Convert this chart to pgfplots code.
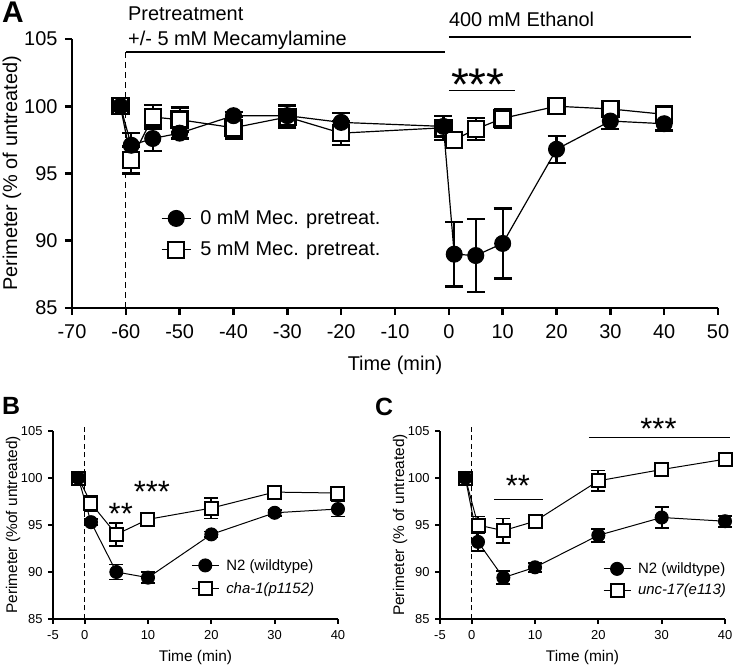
\documentclass[border=0pt]{standalone}
\usepackage{fontspec}
\setmainfont{Liberation Sans}
\usepackage{pgfplots}
\pgfplotsset{compat=1.18}
\pgfplotsset{
  myleg/.style={
    legend image code/.code={
      \draw[mark repeat=2,mark phase=2,##1] plot coordinates {(0bp,0bp) (14.5bp,0bp) (29bp,0bp)};
    },
  },
  myleg small/.style={
    legend image code/.code={
      \draw[mark repeat=2,mark phase=2,##1] plot coordinates {(0bp,0bp) (13.5bp,0bp) (27bp,0bp)};
    },
  },
}
\begin{document}
\begin{tikzpicture}
\useasboundingbox (0,0) rectangle (734bp,669bp);
% ---------------- Panel A ----------------
\begin{axis}[
  scale only axis,
  at={(72bp,361bp)}, anchor=south west, width=646bp, height=269bp,
  axis x line*=bottom, axis y line*=left,
  axis line style={line width=2.6bp},
  tick align=outside,
  major tick length=7bp,
  tick style={line width=2.6bp, black},
  clip=false,
  ymin=85,ymax=105, ytick={85,90,95,100,105}, yticklabels={85,90,95,100,105},
  xmin=-70, xmax=50, xtick={-70,-60,-50,-40,-30,-20,-10,0,10,20,30,40,50},
  xticklabels={-70,-60,-50,-40,-30,-20,-10,0,10,20,30,40,50},
  ticklabel style={font=\fontsize{20}{24}\selectfont},
  xticklabel style={yshift=-6bp}, yticklabel style={xshift=-4bp},
  label style={font=\fontsize{20}{24}\selectfont},
  xlabel={Time (min)}, ylabel={Perimeter (\% of untreated)},
  xlabel style={at={(axis description cs:0.5,-0.212)}, anchor=center},
  ylabel style={at={(axis description cs:-0.093,0.5)}, anchor=center},
  legend cell align=left, reverse legend, myleg,
  legend style={draw=none, fill=none, at={(axis description cs:0.133,0.275)}, anchor=west,
    font=\fontsize{20}{24}\selectfont, row sep=12bp,
    /tikz/every odd column/.append style={column sep=7bp}},
]
\addplot[black, line width=1.2bp, mark=square*, mark size=8bp, mark options={solid, fill=white, line width=2.4bp},
  error bars/.cd, y dir=both, y explicit, error bar style={line width=2.2bp}, error mark options={rotate=90, mark size=9bp, line width=2.2bp}]
coordinates {
(-61,100) +- (0,0.5)
(-59,96.0) +- (0,1.0)
(-55,99.2) +- (0,0.9)
(-50,99.0) +- (0,0.9)
(-40,98.4) +- (0,0.8)
(-30,99.2) +- (0,0.8)
(-20,98.0) +- (0,0.9)
(-1,98.4) +- (0,0.9)
(1,97.5) +- (0,0.6)
(5,98.3) +- (0,0.8)
(10,99.1) +- (0,0.7)
(20,100.0) +- (0,0.6)
(30,99.8) +- (0,0.6)
(40,99.4) +- (0,0.5)
};
\addlegendentry{5 mM Mec. pretreat.}
\addplot[black, line width=1.2bp, mark=*, mark size=8bp, mark options={solid, fill=black, line width=1bp},
  error bars/.cd, y dir=both, y explicit, error bar style={line width=2.2bp}, error mark options={rotate=90, mark size=9bp, line width=2.2bp}]
coordinates {
(-61,100) +- (0,0.5)
(-59,97.1) +- (0,0.9)
(-55,97.6) +- (0,0.9)
(-50,98.0) +- (0,0.4)
(-40,99.3) +- (0,0.3)
(-30,99.3) +- (0,0.8)
(-20,98.8) +- (0,0.7)
(-1,98.5) +- (0,0.8)
(1,89.0) +- (0,2.4)
(5,88.9) +- (0,2.7)
(10,89.8) +- (0,2.6)
(20,96.8) +- (0,1.0)
(30,98.9) +- (0,0.6)
(40,98.7) +- (0,0.5)
};
\addlegendentry{0 mM Mec. pretreat.}
% axis frame and ticks
\draw[line width=2.6bp, line join=miter] (axis cs:-70,105) -- (axis cs:-70,85) -- (axis cs:50,85);
\pgfplotsinvokeforeach{-70,-60,-50,-40,-30,-20,-10,0,10,20,30,40,50}{
  \draw[line width=2.6bp] (axis cs:#1,85) -- ++(0bp,-7bp);
}
\pgfplotsinvokeforeach{85,90,95,100,105}{
  \draw[line width=2.6bp] (axis cs:-70,#1) -- ++(-7bp,0bp);
}
\draw[line width=1bp, dash pattern=on 6bp off 4bp] (axis cs:-60,85) -- (axis cs:-60,104);
\draw[line width=1.2bp] (axis cs:-60,104.03) -- (axis cs:-0.7,104.03);
\draw[line width=1.2bp] (axis cs:0,105.15) -- (axis cs:45,105.15);
\node[anchor=base west, inner sep=0pt, font=\fontsize{20}{24}\selectfont] at (axis cs:-59.6,106.41) {Pretreatment};
\node[anchor=base west, inner sep=0pt, font=\fontsize{20}{24}\selectfont] at (axis cs:-59.6,104.55) {+/- 5 mM Mecamylamine};
\node[anchor=base west, inner sep=0pt, font=\fontsize{20}{24}\selectfont] at (axis cs:0,105.9) {400 mM Ethanol};
\draw[line width=1.2bp] (axis cs:0,101.2) -- (axis cs:12.2,101.2);
\node[anchor=base, inner sep=0pt, font=\fontsize{46}{50}\selectfont] at (axis cs:5.4,100.46) {***};
\end{axis}
% ---------------- Panel B ----------------
\begin{axis}[
  scale only axis,
  at={(53bp,50bp)}, anchor=south west, width=285bp, height=188bp,
  axis x line*=bottom, axis y line*=left,
  axis line style={line width=2bp},
  tick align=outside,
  major tick length=5bp,
  tick style={line width=2bp, black},
  clip=false,
  ymin=85,ymax=105, ytick={85,90,95,100,105}, yticklabels={85,90,95,100,105},
  xmin=-5, xmax=40, xtick={-5,0,10,20,30,40}, xticklabels={-5,0,10,20,30,40},
  ticklabel style={font=\fontsize{13}{15}\selectfont},
  xticklabel style={yshift=-3bp}, yticklabel style={xshift=-2bp},
  label style={font=\fontsize{15.5}{18}\selectfont},
  xlabel={Time (min)}, ylabel={Perimeter (\%of untreated)},
  xlabel style={at={(axis description cs:0.5,-0.205)}, anchor=center},
  ylabel style={at={(axis description cs:-0.14,0.5)}, anchor=center},
  legend cell align=left, reverse legend, myleg small,
  legend style={draw=none, fill=none, at={(axis description cs:0.474,0.223)}, anchor=west,
    font=\fontsize{15}{18}\selectfont, row sep=7bp,
    /tikz/every odd column/.append style={column sep=5bp}},
]
\addplot[black, line width=1bp, mark=square*, mark size=6.5bp, mark options={solid, fill=white, line width=2bp},
  error bars/.cd, y dir=both, y explicit, error bar style={line width=1.8bp}, error mark options={rotate=90, mark size=7bp, line width=1.8bp}]
coordinates {
(-1,100) +- (0,0.3)
(1,97.3) +- (0,0.8)
(5,94.0) +- (0,1.2)
(10,95.6) +- (0,0.4)
(20,96.8) +- (0,1.1)
(30,98.5) +- (0,0.3)
(40,98.4) +- (0,0.5)
};
\addlegendentry{\itshape cha-1(p1152)}
\addplot[black, line width=1bp, mark=*, mark size=6.5bp, mark options={solid, fill=black, line width=1bp},
  error bars/.cd, y dir=both, y explicit, error bar style={line width=1.8bp}, error mark options={rotate=90, mark size=7bp, line width=1.8bp}]
coordinates {
(-1,100) +- (0,0.3)
(1,95.3) +- (0,0.3)
(5,90.0) +- (0,0.8)
(10,89.4) +- (0,0.6)
(20,94.0) +- (0,0.3)
(30,96.3) +- (0,0.3)
(40,96.7) +- (0,0.8)
};
\addlegendentry{N2 (wildtype)}
\draw[line width=2bp, line join=miter] (axis cs:-5,105) -- (axis cs:-5,85) -- (axis cs:40,85);
\pgfplotsinvokeforeach{-5,0,10,20,30,40}{
  \draw[line width=2bp] (axis cs:#1,85) -- ++(0bp,-5bp);
}
\pgfplotsinvokeforeach{85,90,95,100,105}{
  \draw[line width=2bp] (axis cs:-5,#1) -- ++(-5bp,0bp);
}
\draw[line width=1bp, dash pattern=on 5bp off 3.5bp] (axis cs:0,85) -- (axis cs:0,105.4);
\node[anchor=base, inner sep=0pt, font=\fontsize{31}{34}\selectfont] at (axis cs:5.7,95.05) {**};
\node[anchor=base, inner sep=0pt, font=\fontsize{31}{34}\selectfont] at (axis cs:10.6,97.36) {***};
\end{axis}
% ---------------- Panel C ----------------
\begin{axis}[
  scale only axis,
  at={(440bp,50bp)}, anchor=south west, width=285bp, height=188bp,
  axis x line*=bottom, axis y line*=left,
  axis line style={line width=2bp},
  tick align=outside,
  major tick length=5bp,
  tick style={line width=2bp, black},
  clip=false,
  ymin=85,ymax=105, ytick={85,90,95,100,105}, yticklabels={85,90,95,100,105},
  xmin=-5, xmax=40, xtick={-5,0,10,20,30,40}, xticklabels={-5,0,10,20,30,40},
  ticklabel style={font=\fontsize{13}{15}\selectfont},
  xticklabel style={yshift=-3bp}, yticklabel style={xshift=-2bp},
  label style={font=\fontsize{15.5}{18}\selectfont},
  xlabel={Time (min)}, ylabel={Perimeter (\% of untreated)},
  xlabel style={at={(axis description cs:0.5,-0.205)}, anchor=center},
  ylabel style={at={(axis description cs:-0.14,0.5)}, anchor=center},
  legend cell align=left, reverse legend, myleg small,
  legend style={draw=none, fill=none, at={(axis description cs:0.561,0.21)}, anchor=west,
    font=\fontsize{15}{18}\selectfont, row sep=5bp,
    /tikz/every odd column/.append style={column sep=5bp}},
]
\addplot[black, line width=1bp, mark=square*, mark size=6.5bp, mark options={solid, fill=white, line width=2bp},
  error bars/.cd, y dir=both, y explicit, error bar style={line width=1.8bp}, error mark options={rotate=90, mark size=7bp, line width=1.8bp}]
coordinates {
(-1,100) +- (0,0.3)
(1,95.0) +- (0,0.9)
(5,94.4) +- (0,1.3)
(10,95.4) +- (0,0.4)
(20,99.7) +- (0,1.1)
(30,100.9) +- (0,0.5)
(40,102.0) +- (0,0.4)
};
\addlegendentry{\itshape unc-17(e113)}
\addplot[black, line width=1bp, mark=*, mark size=6.5bp, mark options={solid, fill=black, line width=1bp},
  error bars/.cd, y dir=both, y explicit, error bar style={line width=1.8bp}, error mark options={rotate=90, mark size=7bp, line width=1.8bp}]
coordinates {
(-1,100) +- (0,0.3)
(1,93.2) +- (0,1.0)
(5,89.4) +- (0,0.7)
(10,90.5) +- (0,0.5)
(20,93.9) +- (0,0.7)
(30,95.8) +- (0,1.1)
(40,95.4) +- (0,0.6)
};
\addlegendentry{N2 (wildtype)}
\draw[line width=2bp, line join=miter] (axis cs:-5,105) -- (axis cs:-5,85) -- (axis cs:40,85);
\pgfplotsinvokeforeach{-5,0,10,20,30,40}{
  \draw[line width=2bp] (axis cs:#1,85) -- ++(0bp,-5bp);
}
\pgfplotsinvokeforeach{85,90,95,100,105}{
  \draw[line width=2bp] (axis cs:-5,#1) -- ++(-5bp,0bp);
}
\draw[line width=1bp, dash pattern=on 5bp off 3.5bp] (axis cs:0,85) -- (axis cs:0,105.6);
\draw[line width=1bp] (axis cs:3.6,97.73) -- (axis cs:11.2,97.73);
\draw[line width=1bp] (axis cs:18.5,104.33) -- (axis cs:40.8,104.33);
\node[anchor=base, inner sep=0pt, font=\fontsize{31}{34}\selectfont] at (axis cs:7.3,97.98) {**};
\node[anchor=base, inner sep=0pt, font=\fontsize{31}{34}\selectfont] at (axis cs:29.5,104.1) {***};
\end{axis}
% panel letters
\node[anchor=base west, inner sep=0pt, font=\fontsize{30}{32}\selectfont\bfseries] at (2bp,646bp) {A};
\node[anchor=base west, inner sep=0pt, font=\fontsize{25}{28}\selectfont\bfseries] at (2bp,254bp) {B};
\node[anchor=base west, inner sep=0pt, font=\fontsize{25}{28}\selectfont\bfseries] at (375bp,253bp) {C};
\end{tikzpicture}
\end{document}
